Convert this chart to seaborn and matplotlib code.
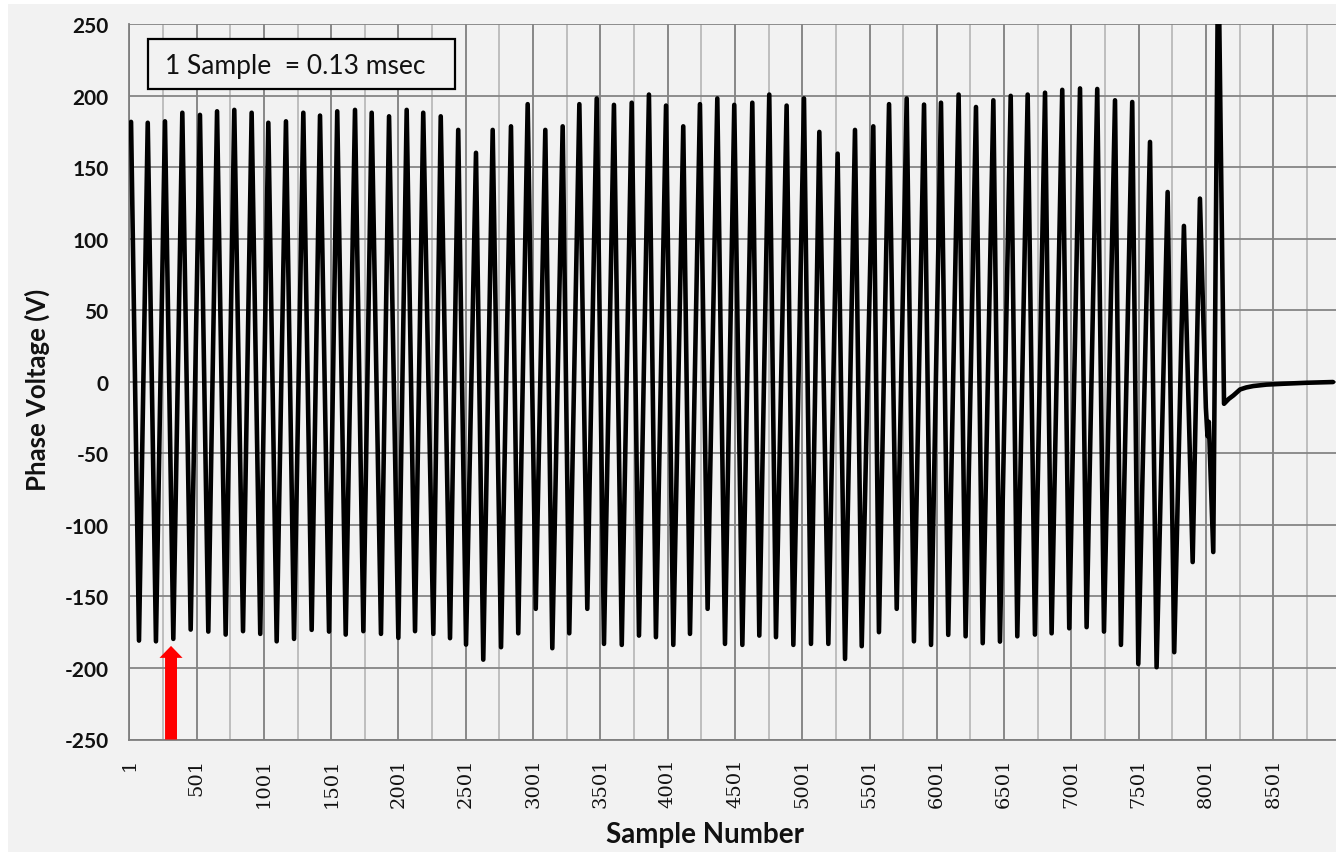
import numpy as np
import pandas as pd
import matplotlib
matplotlib.use("Agg")
import matplotlib.pyplot as plt
import seaborn as sns
from matplotlib.patches import Rectangle, FancyArrowPatch
from matplotlib.ticker import FixedLocator

# ---- data ----
peak_samples = [14, 138, 266, 395, 526, 653, 781, 910, 1034, 1165, 1294, 1418, 1546, 1678,
                1802, 1931, 2062, 2185, 2315, 2445, 2577, 2701, 2837, 2961, 3092, 3221, 3345,
                3474, 3602, 3734, 3862, 3989, 4117, 4241, 4370, 4496, 4630, 4756, 4885, 5014,
                5128, 5264, 5393, 5529, 5646, 5777, 5906, 6032, 6163, 6292, 6421, 6550, 6676,
                6805, 6933, 7065, 7193, 7325, 7453, 7585, 7716, 7837, 7956]
peak_volts = [181.6, 181, 182, 188, 186.5, 189, 190, 188, 181, 182, 188, 186, 189, 190,
              188, 185.5, 190, 188, 185.5, 176, 160, 176, 178.5, 194, 176, 178.5, 194,
              198, 193.5, 195, 200.7, 193, 178.5, 194, 198, 193.5, 195, 200.7, 193, 198,
              174.6, 159.4, 176, 178.5, 194, 198, 193.7, 195, 200.7, 192, 196.7, 199.8, 200.7,
              202, 204, 205, 204.6, 196.7, 195.5, 167.6, 132.6, 108.9, 128]

trough_samples = [73, 199, 328, 457, 588, 717, 846, 974, 1096, 1225, 1356, 1485, 1609, 1740,
                  1871, 2000, 2124, 2260, 2384, 2503, 2631, 2763, 2891, 3021, 3144, 3270, 3404,
                  3528, 3660, 3788, 3914, 4043, 4167, 4298, 4427, 4556, 4682, 4806, 4935, 5066,
                  5195, 5319, 5443, 5571, 5703, 5831, 5958, 6086, 6215, 6342, 6470, 6599, 6730,
                  6854, 6985, 7114, 7243, 7369, 7498, 7634, 7765, 7902, 8055]
trough_volts = [-180.9, -181.4, -179.7, -173.2, -174.6, -176.7, -174.3, -176.2, -181.4, -179.7,
                -173.4, -174.6, -176.7, -174.3, -176.2, -179, -174.3, -176.2, -179.2, -183.7,
                -194.2, -185.5, -175.8, -158.7, -186.2, -175.8, -158.7, -183.2, -183.9, -177.4,
                -178.5, -183.9, -176.2, -158.7, -183.2, -183.9, -177.4, -178.5, -183.9, -183.2,
                -183.2, -193.7, -184.8, -175, -158.7, -181.4, -183.9, -176.9, -177.9, -182.7,
                -181.6, -177.9, -176.7, -175.8, -172.3, -171.5, -174.6, -183.9, -197.2, -199.5,
                -189, -126, -119]

# disturbance and decay after the breaker opens
tail_samples = [8000, 8012, 8022, 8092, 8135, 8170, 8204, 8254, 8300, 8353, 8450, 8575, 8750, 8945]
tail_volts = [-18, -38, -28, 310, -15.4, -12, -9.6, -5.4, -4, -3, -2, -1.4, -0.7, -0.2]

tick_values = list(range(1, 9001, 500))
tick_labels = [str(v) for v in tick_values]
minor_values = list(range(251, 9001, 500))
y_ticks = list(range(-250, 251, 50))

box_text = "1 Sample  = 0.13 msec"

df = pd.DataFrame({
    "sample": peak_samples + trough_samples + tail_samples,
    "voltage": peak_volts + trough_volts + tail_volts,
}).sort_values("sample")

# ---- style ----
BG = "#f2f2f2"
sns.set_style("white", rc={"axes.facecolor": BG, "figure.facecolor": BG})
plt.rcParams["font.family"] = ["Lato", "DejaVu Sans"]

fig = plt.figure(figsize=(13.36, 8.53), dpi=100)
W, H = 1336, 853
ax_left, ax_right, ax_top, ax_bottom = 129.3, 1336, 25, 740.5
ax = fig.add_axes([ax_left / W, 1 - ax_bottom / H, (ax_right - ax_left) / W, (ax_bottom - ax_top) / H])

sns.lineplot(data=df, x="sample", y="voltage", color="black", linewidth=3.3,
             estimator=None, sort=True, ax=ax, zorder=4)
ax.get_lines()[0].set_solid_joinstyle("round")

ax.set_xlim(1, 8967)
ax.set_ylim(-250, 250)
ax.xaxis.set_major_locator(FixedLocator(tick_values))
ax.xaxis.set_minor_locator(FixedLocator(minor_values))
ax.set_xticks(tick_values)
ax.set_xticklabels(tick_labels, rotation=90, family="DejaVu Serif", fontsize=14)
ax.set_yticks(y_ticks)
ax.set_yticklabels([str(v) for v in y_ticks], fontsize=15, fontweight="bold")
ax.tick_params(which="both", length=0)
ax.tick_params(axis="x", pad=13, colors="#111111")
ax.tick_params(axis="y", pad=15, colors="#111111")

ax.set_axisbelow(True)
ax.grid(which="major", axis="x", color="#7f7f7f", lw=1.3)
ax.grid(which="minor", axis="x", color="#b5b5b5", lw=1.2)
ax.grid(which="major", axis="y", color="#858585", lw=1.3)
for s in ["top", "right"]:
    ax.spines[s].set_visible(False)
for s in ["left", "bottom"]:
    ax.spines[s].set_color("#7f7f7f")
    ax.spines[s].set_linewidth(1.3)

ax.set_xlabel("Sample Number", fontsize=20, fontweight="bold", color="#111111")
ax.xaxis.label.set_va("baseline")
ax.xaxis.set_label_coords((705 - ax_left) / (ax_right - ax_left), (ax_bottom - 843) / (ax_bottom - ax_top))
ax.set_ylabel("Phase Voltage (V)", fontsize=18.5, fontweight="bold", color="#111111")
ax.yaxis.label.set_va("center")
ax.yaxis.set_label_coords((37 - ax_left) / (ax_right - ax_left), (ax_bottom - 390) / (ax_bottom - ax_top))

# annotation box
aw, ah = ax_right - ax_left, ax_bottom - ax_top
rect = Rectangle(((148 - ax_left) / aw, (ax_bottom - 90) / ah), 307 / aw, 50 / ah,
                 transform=ax.transAxes, facecolor=BG, edgecolor="black", lw=1.6, zorder=5)
ax.add_patch(rect)
ax.text((165 - ax_left) / aw, (ax_bottom - 66) / ah, box_text, transform=ax.transAxes,
        fontsize=19, va="center", ha="left", color="#111111", zorder=6)

# red arrow
arrow = FancyArrowPatch((311, -250), (311, -184.6),
                        arrowstyle="simple,head_length=8.6,head_width=16.6,tail_width=8.6",
                        mutation_scale=1, color="#ff0000", lw=0, shrinkA=0, shrinkB=0,
                        zorder=6, clip_on=False)
ax.add_patch(arrow)

# white screenshot edges
fig.patches.append(Rectangle((0, 1 - 5 / H), 1, 5 / H, transform=fig.transFigure,
                             facecolor="white", edgecolor="none"))
fig.patches.append(Rectangle((0, 0), 8 / W, 1, transform=fig.transFigure,
                             facecolor="white", edgecolor="none"))

fig.savefig("out.png", dpi=100, facecolor=BG)
